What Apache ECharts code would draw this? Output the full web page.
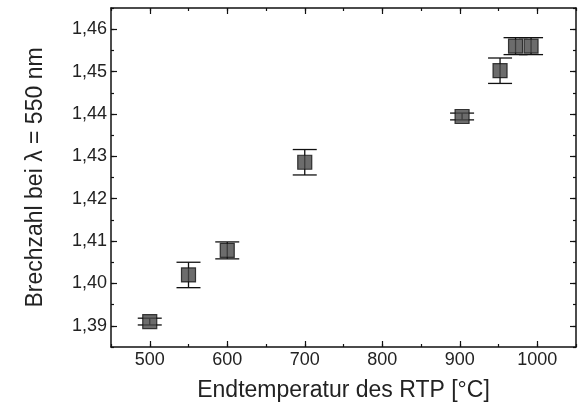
<!DOCTYPE html>
<html>
<head>
<meta charset="utf-8">
<script src="https://cdn.jsdelivr.net/npm/echarts@6/dist/echarts.min.js"></script>
<style>html,body{margin:0;padding:0;background:#fff}#c{width:578px;height:410px}</style>
</head>
<body>
<div id="c"></div>
<script>
const temps = [500, 550, 600, 700, 903, 952, 972, 992];
const index = [1.391, 1.402, 1.4078, 1.4286, 1.4394, 1.4502, 1.456, 1.456];
const errs = [0.0008, 0.003, 0.002, 0.003, 0.0008, 0.003, 0.002, 0.002];
const xTicks = [500, 600, 700, 800, 900, 1000];
const yTicks = [1.39, 1.40, 1.41, 1.42, 1.43, 1.44, 1.45, 1.46];
const xTitle = 'Endtemperatur des RTP [°C]';
const yTitle = 'Brechzahl bei λ = 550 nm';

const FONT = '"Liberation Sans", Arial, sans-serif';
const chart = echarts.init(document.getElementById('c'), null, {renderer: 'canvas'});

const pts = temps.map((t, i) => [t, index[i]]);
const errData = temps.map((t, i) => [t, index[i] - errs[i], index[i] + errs[i]]);

const lineStyle = {color: '#111', width: 1.5};
function xAx(pos, major, showLabel, name) {
  const a = {
    type: 'value', position: pos, min: 450, max: 1050, interval: 50,
    name: name || '', nameLocation: 'middle', nameGap: 32,
    nameTextStyle: {fontFamily: FONT, fontSize: 23, color: '#222'},
    axisLine: {show: major, lineStyle: lineStyle},
    axisTick: {show: true, inside: true, length: major ? 6 : 3, lineStyle: {color: '#111', width: 1.2}},
    axisLabel: {show: showLabel, margin: 4, fontFamily: FONT, fontSize: 18, color: '#222',
      formatter: v => String(v)},
    splitLine: {show: false}
  };
  if (major) { a.axisTick.customValues = xTicks; a.axisLabel.customValues = xTicks; }
  return a;
}
function yAx(pos, major, showLabel, name) {
  const a = {
    type: 'value', position: pos, min: 1.385, max: 1.465, interval: 0.005,
    name: name || '', nameLocation: 'middle', nameGap: 64,
    nameTextStyle: {fontFamily: FONT, fontSize: 23, color: '#222'},
    axisLine: {show: major, lineStyle: lineStyle},
    axisTick: {show: true, inside: true, length: major ? 6 : 3, lineStyle: {color: '#111', width: 1.2}},
    axisLabel: {show: showLabel, margin: 4, fontFamily: FONT, fontSize: 18, color: '#222',
      formatter: v => v.toFixed(2).replace('.', ',')},
    splitLine: {show: false}
  };
  if (major) { a.axisTick.customValues = yTicks; a.axisLabel.customValues = yTicks; }
  return a;
}

chart.setOption({
  animation: false,
  backgroundColor: '#fff',
  grid: {left: 111, right: 2, top: 8, bottom: 63, containLabel: false},
  xAxis: [xAx('bottom', true, true, xTitle), xAx('bottom', false, false), xAx('top', true, false), xAx('top', false, false)],
  yAxis: [yAx('left', true, true, yTitle), yAx('left', false, false), yAx('right', true, false), yAx('right', false, false)],
  series: [
    {
      type: 'custom', xAxisIndex: 0, yAxisIndex: 0, data: errData, z: 3,
      renderItem: function (params, api) {
        const x = api.value(0);
        const lo = api.coord([x, api.value(1)]);
        const hi = api.coord([x, api.value(2)]);
        const hw = 12;
        const st = {stroke: '#111', lineWidth: 1.3};
        return {type: 'group', children: [
          {type: 'line', shape: {x1: lo[0], y1: lo[1], x2: hi[0], y2: hi[1]}, style: st},
          {type: 'line', shape: {x1: lo[0] - hw, y1: lo[1], x2: lo[0] + hw, y2: lo[1]}, style: st},
          {type: 'line', shape: {x1: hi[0] - hw, y1: hi[1], x2: hi[0] + hw, y2: hi[1]}, style: st}
        ]};
      }
    },
    {
      type: 'scatter', xAxisIndex: 0, yAxisIndex: 0, data: pts, z: 5,
      symbol: 'rect', symbolSize: 14,
      itemStyle: {color: '#474747', borderColor: '#111', borderWidth: 1.2}
    }
  ]
});
</script>
</body>
</html>
